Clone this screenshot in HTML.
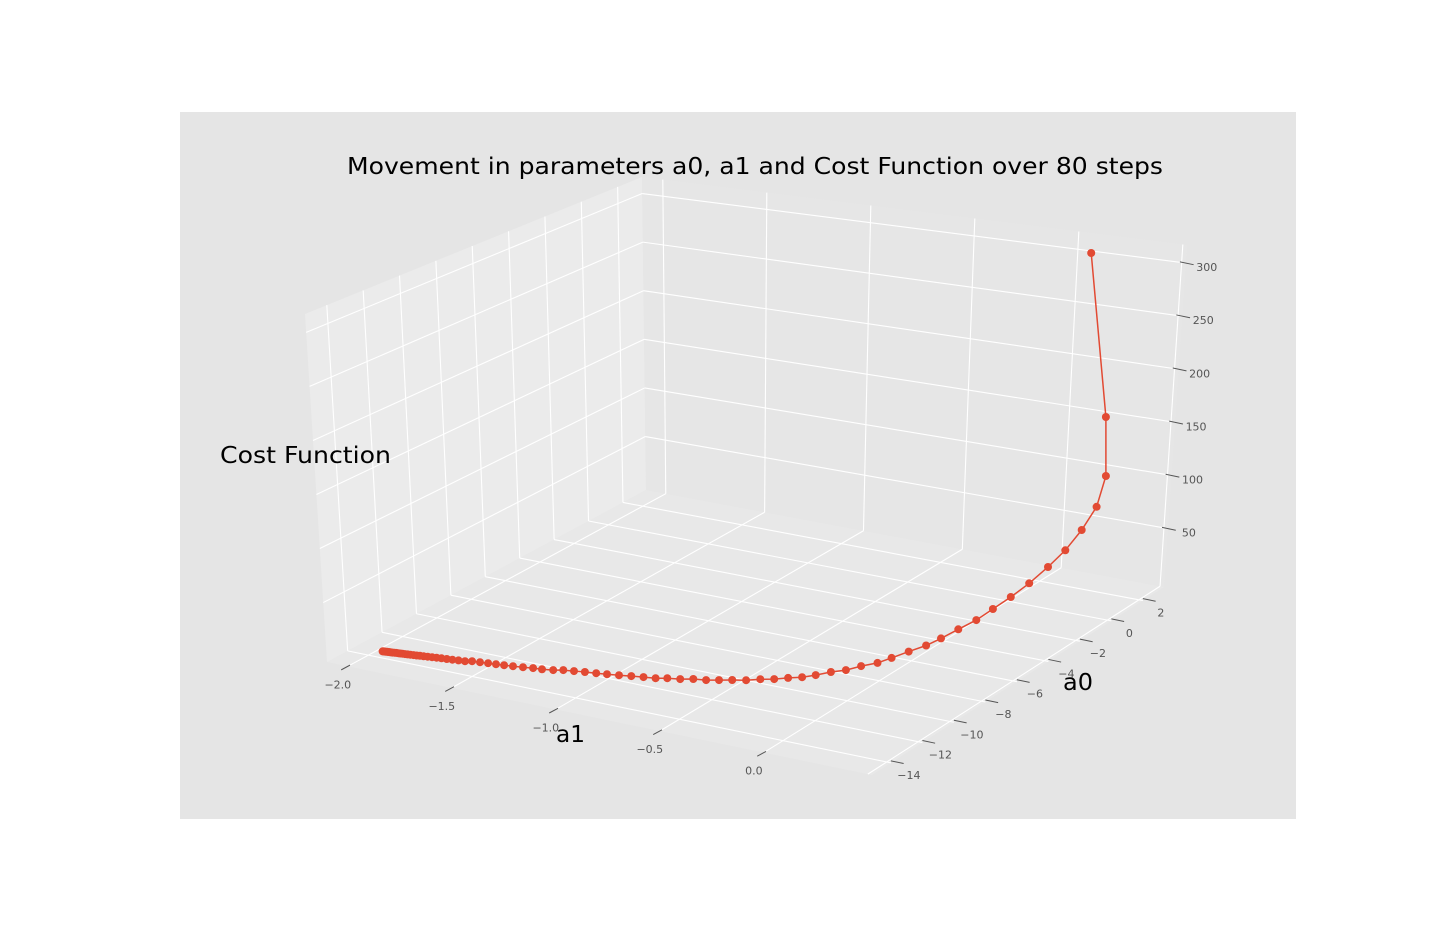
<!DOCTYPE html>
<html><head><meta charset="utf-8"><title>Movement in parameters</title>
<style>html,body{margin:0;padding:0;background:#fff;}svg{display:block;font-family:"DejaVu Sans","Liberation Sans",sans-serif;}</style>
</head><body>
<svg id="chart" width="1440" height="936" viewBox="0 0 1440 936" xmlns="http://www.w3.org/2000/svg">
<rect x="0" y="0" width="1440" height="936" fill="#ffffff"/>
<rect x="180" y="112" width="1116" height="707" fill="#e5e5e5"/>
<g id="panes"></g>
<g id="grid"></g>
<g id="ticks"></g>
<g id="series"></g>
<text x="347" y="174" font-size="23" textLength="816" lengthAdjust="spacingAndGlyphs" fill="#000">Movement in parameters a0, a1 and Cost Function over 80 steps</text>
<text x="220" y="463" font-size="23" textLength="171" lengthAdjust="spacingAndGlyphs" fill="#000">Cost Function</text>
<text x="556" y="742" font-size="23" textLength="29" lengthAdjust="spacingAndGlyphs" fill="#000">a1</text>
<text x="1063" y="690" font-size="23" textLength="30" lengthAdjust="spacingAndGlyphs" fill="#000">a0</text>
</svg>
<script>
const a1Vals = [0.161,0.287,0.297,0.261,0.221,0.182,0.156,0.140,0.122,0.109,0.101,0.067,0.056,0.043,0.014,-0.012,-0.035,-0.077,-0.109,-0.153,-0.190,-0.227,-0.274,-0.318,-0.368,-0.413,-0.465,-0.512,-0.559,-0.612,-0.659,-0.711,-0.753,-0.803,-0.853,-0.903,-0.952,-0.997,-1.044,-1.089,-1.133,-1.170,-1.215,-1.254,-1.295,-1.337,-1.375,-1.410,-1.444,-1.479,-1.513,-1.538,-1.566,-1.592,-1.616,-1.639,-1.660,-1.679,-1.698,-1.715,-1.731,-1.745,-1.759,-1.772,-1.784,-1.795,-1.806,-1.815,-1.824,-1.833,-1.841,-1.848,-1.855,-1.861,-1.867,-1.872,-1.878,-1.882,-1.887,-1.891];
const a0Vals = [2.10,1.95,2.04,2.02,1.67,1.19,0.47,-0.48,-1.39,-2.33,-3.26,-3.95,-4.89,-5.65,-6.37,-7.10,-7.69,-8.17,-8.71,-9.08,-9.55,-9.92,-10.19,-10.49,-10.71,-11.01,-11.21,-11.42,-11.62,-11.73,-11.94,-12.07,-12.25,-12.36,-12.47,-12.59,-12.70,-12.79,-12.88,-12.98,-13.07,-13.22,-13.33,-13.38,-13.47,-13.55,-13.61,-13.66,-13.71,-13.76,-13.81,-13.92,-13.96,-14.00,-14.04,-14.07,-14.10,-14.13,-14.16,-14.19,-14.21,-14.23,-14.25,-14.27,-14.29,-14.31,-14.32,-14.34,-14.35,-14.36,-14.37,-14.39,-14.40,-14.40,-14.41,-14.42,-14.43,-14.44,-14.44,-14.45];
const costVals = [310,160,104,74,54,38,28,21,16,13,11,7.6,7.4,7.3,7.2,7.1,7.0,6.9,6.9,6.9,6.9,6.9,6.9,6.9,6.9,6.9,6.9,6.9,6.9,6.9,6.9,6.9,6.9,6.9,6.9,6.9,6.9,6.9,6.9,6.9,6.9,6.8,6.8,6.8,6.8,6.8,6.8,6.8,6.8,6.8,6.8,6.8,6.8,6.8,6.8,6.8,6.8,6.8,6.8,6.8,6.8,6.7,6.7,6.7,6.7,6.7,6.7,6.7,6.7,6.7,6.7,6.7,6.7,6.7,6.7,6.7,6.7,6.7,6.7,6.7];
const a1Ticks = [-2.0,-1.5,-1.0,-0.5,0.0];
const a1TickLabels = ["\u22122.0","\u22121.5","\u22121.0","\u22120.5","0.0"];
const a1Grid = [-2.0,-1.5,-1.0,-0.5,0.0,0.5];
const a0Ticks = [-14,-12,-10,-8,-6,-4,-2,0,2];
const a0TickLabels = ["\u221214","\u221212","\u221210","\u22128","\u22126","\u22124","\u22122","0","2"];
const zTicks = [50,100,150,200,250,300];
const zTickLabels = ["50","100","150","200","250","300"];

const A1MIN=-2.1, A1MAX=0.52, A0MIN=-15.2, A0MAX=3.34, ZMIN=-5, ZMAX=317;
const C = {b00:[327,662],b10:[872,775],b11:[1164,587],b01:[646,490],
           t00:[305,314],t10:[881,395],t11:[1187,245],t01:[642,177]};
function bil(p00,p10,p11,p01,u,v){
  return [p00[0]*(1-u)*(1-v)+p10[0]*u*(1-v)+p11[0]*u*v+p01[0]*(1-u)*v,
          p00[1]*(1-u)*(1-v)+p10[1]*u*(1-v)+p11[1]*u*v+p01[1]*(1-u)*v];
}
function projUVW(u,v,w){
  const b=bil(C.b00,C.b10,C.b11,C.b01,u,v), t=bil(C.t00,C.t10,C.t11,C.t01,u,v);
  return [b[0]*(1-w)+t[0]*w, b[1]*(1-w)+t[1]*w];
}
function uA1(a){return (a-A1MIN)/(A1MAX-A1MIN);}
function vA0(a){return (a-A0MIN)/(A0MAX-A0MIN);}
function wZ(z){return (z-ZMIN)/(ZMAX-ZMIN);}
function proj(a1,a0,z){return projUVW(uA1(a1),vA0(a0),wZ(z));}

const NS="http://www.w3.org/2000/svg";
function mk(tag,attrs,parent){const e=document.createElementNS(NS,tag);for(const k in attrs)e.setAttribute(k,attrs[k]);parent.appendChild(e);return e;}
function pts(arr){return arr.map(p=>p[0].toFixed(1)+","+p[1].toFixed(1)).join(" ");}

const panes=document.getElementById('panes');
let el;
el=mk('polygon',{points:pts([projUVW(0,0,0),projUVW(1,0,0),projUVW(1,1,0),projUVW(0,1,0)]),fill:'#e8e8e8'},panes);


el=mk('polygon',{points:pts([projUVW(0,0,0),projUVW(0,1,0),projUVW(0,1,1),projUVW(0,0,1)]),fill:'#ebebeb'},panes);


el=mk('polygon',{points:pts([projUVW(0,1,0),projUVW(1,1,0),projUVW(1,1,1),projUVW(0,1,1)]),fill:'#e6e6e6'},panes);



const grid=document.getElementById('grid');
function gl(p,q,name){
  const l=mk('line',{x1:p[0],y1:p[1],x2:q[0],y2:q[1],stroke:'#ffffff','stroke-width':1.1},grid);
  
  
}
a1Grid.forEach(a=>{const u=uA1(a);
  gl(projUVW(u,0,0),projUVW(u,1,0),'floor-grid-a1');
  gl(projUVW(u,1,0),projUVW(u,1,1),'back-grid-a1');});
a0Ticks.forEach(a=>{const v=vA0(a);
  gl(projUVW(0,v,0),projUVW(1,v,0),'floor-grid-a0');
  gl(projUVW(0,v,0),projUVW(0,v,1),'left-grid-a0');});
zTicks.forEach(z=>{const w=wZ(z);
  gl(projUVW(0,0,w),projUVW(0,1,w),'left-grid-z');
  gl(projUVW(0,1,w),projUVW(1,1,w),'back-grid-z');});

const ticks=document.getElementById('ticks');
function unit(p,q){const dx=q[0]-p[0],dy=q[1]-p[1],l=Math.hypot(dx,dy);return [dx/l,dy/l];}
const dU=unit(C.b00,C.b10), dV=unit(C.b00,C.b01);
function tk(p,d,s,e,name){
  const l=mk('line',{x1:p[0]+d[0]*s,y1:p[1]+d[1]*s,x2:p[0]+d[0]*e,y2:p[1]+d[1]*e,stroke:'#555555','stroke-width':1},ticks);
  
  
}
function lbl(x,y,txt,name){
  const t=mk('text',{x:x,y:y,'font-size':11,'text-anchor':'middle',fill:'#555555'},ticks);
  t.textContent=txt;
  
  
}
a1Ticks.forEach((a,i)=>{const p=proj(a,A0MIN,ZMIN);
  tk(p,dV,2.5,-7.5,'a1-tick');
  lbl(p[0]-10,p[1]+22,a1TickLabels[i],'a1-tick-label');});
a0Ticks.forEach((a,i)=>{const p=proj(A1MAX,a,ZMIN);p[1]-=2;
  tk(p,dU,0,13,'a0-tick');
  lbl(p[0]+18,p[1]+18,a0TickLabels[i],'a0-tick-label');});
zTicks.forEach((z,i)=>{const p=proj(A1MAX,A0MAX,z);
  tk(p,dU,-6,8,'z-tick');
  lbl(p[0]+21,p[1]+8,zTickLabels[i],'z-tick-label');});

const series=document.getElementById('series');
const P=a1Vals.map((a,i)=>proj(a,a0Vals[i],costVals[i]));
el=mk('polyline',{points:pts(P),fill:'none',stroke:'#E24A33','stroke-width':1.5},series);


P.forEach((p,i)=>{
  const c=mk('circle',{cx:p[0].toFixed(1),cy:p[1].toFixed(1),r:4,fill:'#E24A33'},series);
  
  
});
</script>
</body></html>
